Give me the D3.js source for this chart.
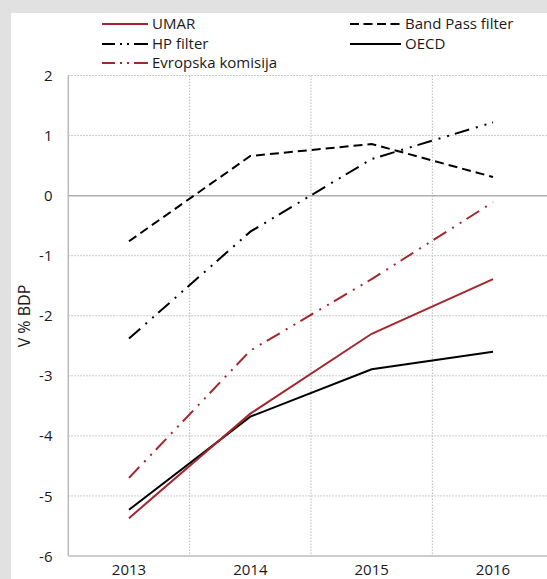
<!DOCTYPE html>
<html><head><meta charset="utf-8">
<script src="https://cdn.jsdelivr.net/npm/d3@7"></script>
<style>
html,body{margin:0;padding:0;background:#e1e1e1;}
svg{display:block;font-family:"Open Sans",sans-serif;}
</style></head>
<body>
<svg id="chart" width="547" height="579"></svg>
<script>
const years = ["2013","2014","2015","2016"];
const yTicks = [2,1,0,-1,-2,-3,-4,-5,-6];
const umar = [-5.37,-3.63,-2.30,-1.39];
const bandPass = [-0.76,0.66,0.86,0.31];
const hpFilter = [-2.38,-0.60,0.61,1.22];
const oecd = [-5.23,-3.68,-2.89,-2.60];
const evropska = [-4.70,-2.58,-1.39,-0.11];
const seriesNames = ["UMAR","Band Pass filter","HP filter","OECD","Evropska komisija"];
const yTitle = "V % BDP";

const RED = "#a4262c";
const svg = d3.select("#chart");
svg.append("rect").attr("x",11).attr("y",13).attr("width",547).attr("height",579).attr("fill","#fff");

const x = d3.scaleBand().domain(years).range([68.3, 553.7]);
const y = d3.scaleLinear().domain([-6,2]).range([556, 75.5]);

const grid = svg.append("g");
grid.selectAll("line.h").data(yTicks.filter(t=>t!==0 && t!==-6)).join("line")
  .attr("x1",68.3).attr("x2",553.7).attr("y1",d=>y(d)).attr("y2",d=>y(d))
  .attr("stroke","#b9b9b9").attr("stroke-width",1).attr("stroke-dasharray","1.5,1.5");
grid.selectAll("line.v").data(years.slice(1).concat(["end"])).join("line")
  .attr("x1",(d,i)=>x.range()[0]+x.bandwidth()*(i+1)).attr("x2",(d,i)=>x.range()[0]+x.bandwidth()*(i+1))
  .attr("y1",y(2)).attr("y2",y(-6))
  .attr("stroke","#b9b9b9").attr("stroke-width",1).attr("stroke-dasharray","1.5,1.5");
grid.append("line").attr("x1",68.3).attr("x2",553.7).attr("y1",y(0)).attr("y2",y(0))
  .attr("stroke","#b0b0b0").attr("stroke-width",1.5);
grid.append("line").attr("x1",68.3).attr("x2",553.7).attr("y1",y(-6)).attr("y2",y(-6))
  .attr("stroke","#bbbbbb").attr("stroke-width",1.5);
grid.append("line").attr("x1",68.3).attr("x2",68.3).attr("y1",y(2)).attr("y2",y(-6))
  .attr("stroke","#bbbbbb").attr("stroke-width",1.5);

const yAxis = d3.axisLeft(y).tickValues(yTicks).tickSize(0).tickPadding(0).tickFormat(d=>String(d));
const ya = svg.append("g").attr("transform","translate(52.5,0)").call(yAxis);
ya.select(".domain").remove();
ya.selectAll("text").attr("font-size",15).attr("fill","#1a1a1a").attr("font-family","Open Sans").attr("dy","0.34em");

const xAxis = d3.axisBottom(x).tickSize(0).tickPadding(0);
const xa = svg.append("g").attr("transform","translate(0,564)").call(xAxis);
xa.select(".domain").remove();
xa.selectAll("text").attr("font-size",15).attr("fill","#1a1a1a").attr("font-family","Open Sans").attr("dy","0.72em");

svg.append("text").attr("transform","translate(30,316) rotate(-90)")
  .attr("text-anchor","middle").attr("font-size",16).attr("fill","#1a1a1a").text(yTitle);

const styles = [
  {data:umar, color:RED, dash:null},
  {data:bandPass, color:"#000", dash:"9,5"},
  {data:hpFilter, color:"#000", dash:"15,7,2,7,2,6"},
  {data:oecd, color:"#000", dash:null},
  {data:evropska, color:RED, dash:"15,7,2,7,2,6"}
];
const line = d3.line().x((d,i)=>x(years[i])+x.bandwidth()/2).y(d=>y(d));
const drawOrder = [1,2,4,3,0];
drawOrder.forEach(k=>{
  const s = styles[k];
  svg.append("path").datum(s.data).attr("d",line).attr("fill","none")
    .attr("stroke",s.color).attr("stroke-width",2)
    .attr("stroke-dasharray",s.dash);
});

const legendPos = [
  {x1:102,x2:148,y:24},
  {x1:350,x2:401,y:24},
  {x1:102,x2:148,y:44},
  {x1:350,x2:401,y:44},
  {x1:102,x2:148,y:63}
];
const legendDash = [null,"9,4.5","13,5,2,5,2,5,14",null,"13,5,2,5,2,5,14"];
const lg = svg.append("g");
seriesNames.forEach((n,i)=>{
  const p = legendPos[i];
  lg.append("line").attr("x1",p.x1).attr("x2",p.x2).attr("y1",p.y).attr("y2",p.y)
    .attr("stroke",styles[i].color).attr("stroke-width",2).attr("stroke-dasharray",legendDash[i]);
  lg.append("text").attr("x",p.x2+4).attr("y",p.y).attr("dy","0.35em")
    .attr("font-size",15).attr("fill","#1a1a1a").text(n);
});
</script>
</body></html>
